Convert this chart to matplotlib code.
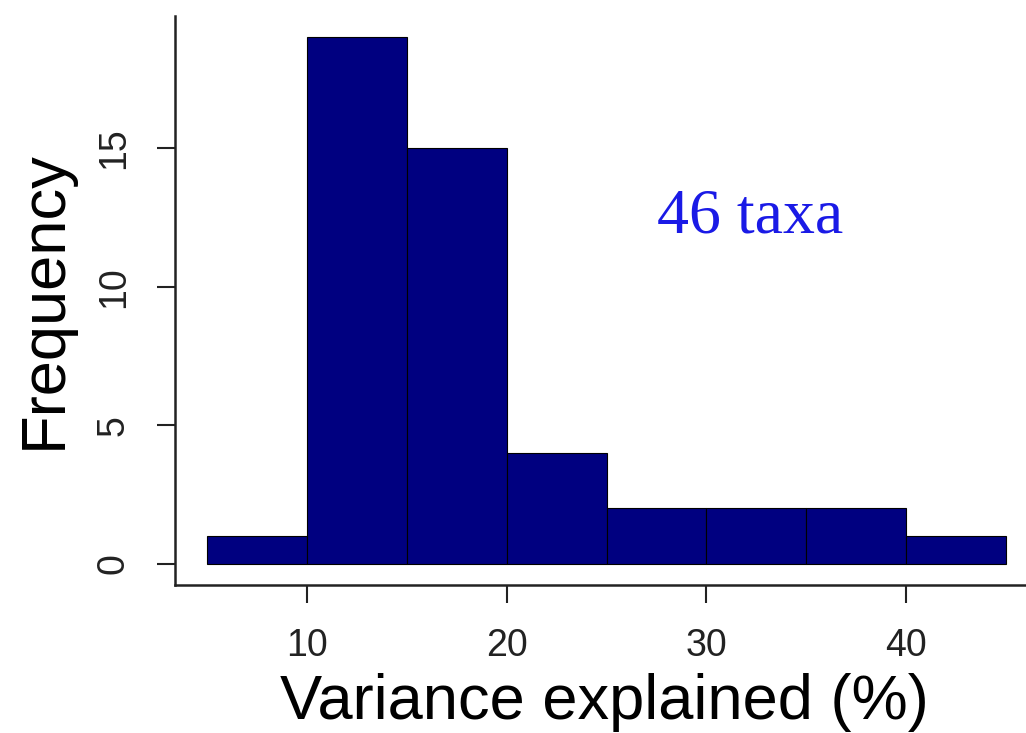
import matplotlib
matplotlib.use("Agg")
import matplotlib.pyplot as plt

# histogram bins (left edges) and counts
bin_left = [5, 10, 15, 20, 25, 30, 35, 40]
counts = [1, 19, 15, 4, 2, 2, 2, 1]
bin_width = 5
xticks = [10, 20, 30, 40]
yticks = [0, 5, 10, 15]

plt.rcParams['font.family'] = ['Liberation Sans', 'DejaVu Sans']

fig = plt.figure(figsize=(10.26, 7.33), dpi=100)
ax = fig.add_axes([175/1026, 1 - 585/733, 863/1026, 569/733])

ax.bar(bin_left, counts, width=bin_width, align='edge',
       color='#000080', edgecolor='black', linewidth=0.8)

ax.set_xlim(3.4, 46.6)
ax.set_ylim(-0.76, 19.76)

for s in ['top', 'right']:
    ax.spines[s].set_visible(False)
for s in ['left', 'bottom']:
    ax.spines[s].set_linewidth(1.8)
    ax.spines[s].set_color('#222222')

ax.set_xticks(xticks)
ax.set_yticks(yticks)
ax.tick_params(axis='both', length=13, width=1.5, color='#222222',
               labelsize=27, labelcolor='#222222', pad=18)
for lbl in ax.get_yticklabels():
    lbl.set_rotation(90)
    lbl.set_va('center')

ax.set_xlabel('Variance explained (%)', fontsize=45.5, va='center', ha='center')
ax.xaxis.set_label_coords(0.498, -0.207)
ax.set_ylabel('Frequency', fontsize=45.5, va='center', ha='center')
ax.yaxis.set_label_coords(-0.151, 0.501)

ax.text(32.2, 12.5, '46 taxa', color='#1a1ae6', fontsize=46,
        family=['Liberation Serif', 'DejaVu Serif'], ha='center', va='center')

fig.savefig('out.png', dpi=100)
